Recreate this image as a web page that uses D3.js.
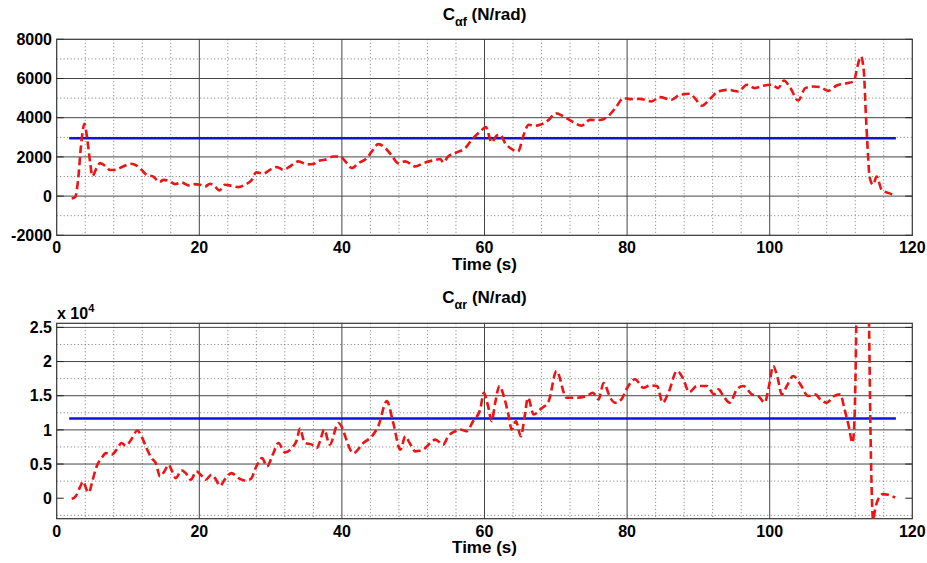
<!DOCTYPE html>
<html>
<head>
<meta charset="utf-8">
<script src="https://cdn.jsdelivr.net/npm/d3@7"></script>
<style>
  body { margin: 0; background: #fff; }
  svg text { font-family: Arial, "Liberation Sans", sans-serif; font-weight: bold; fill: #000; }
</style>
</head>
<body>
<svg id="chart" width="927" height="563"></svg>
<script>
// ------------------------------------------------------------
// Cornering stiffness estimates, front (top) and rear (bottom).
// Red dashed = estimate over time, blue = constant reference.
// ------------------------------------------------------------

// Time samples and estimate for the front axle (N/rad).
const timeF = [2.1, 2.6, 3.0, 3.4, 3.9, 4.3, 4.7, 5.0, 5.6, 6.1, 6.9, 7.5, 8.2, 9.3, 10.4, 11.2, 11.9, 12.6, 13.6, 14.4,
  15.0, 15.9, 16.6, 17.5, 18.5, 19.2, 20.1, 20.8, 21.5, 22.2, 22.8, 23.6, 24.5, 25.5, 26.4, 27.3, 28.0, 29.0, 29.9, 30.9,
  31.8, 32.7, 33.9, 35.1, 36.0, 36.7, 37.6, 38.8, 39.7, 40.7, 41.4, 42.3, 43.5, 44.2, 45.1, 46.1, 47.0, 47.9, 48.9, 50.3,
  51.4, 52.8, 53.8, 54.2, 54.9, 56.1, 57.3, 58.2, 59.4, 60.2, 61.0, 61.7, 62.2, 62.9, 63.6, 64.7, 65.5, 66.2, 67.1, 67.8,
  69.0, 70.0, 71.1, 72.5, 73.6, 74.8, 76.2, 77.6, 78.5, 79.5, 80.4, 81.8, 83.4, 84.6, 86.2, 87.4, 88.8, 89.5, 90.5, 91.6,
  92.8, 94.2, 95.6, 96.8, 97.9, 99.1, 100.3, 101.2, 102.0, 102.9, 104.0, 105.0, 106.1, 107.1, 108.2, 109.4, 110.8, 111.8,
  112.3, 112.8, 113.2, 113.5, 113.8, 114.0, 114.5, 115.0, 115.7, 116.7, 117.7];
const capF = [-120, -50, 830, 2530, 3690, 2870, 1680, 1020, 1430, 1680, 1510, 1330, 1340, 1510, 1650, 1560, 1340, 1090, 980, 720,
  830, 750, 610, 700, 545, 610, 580, 490, 630, 490, 290, 580, 530, 460, 580, 800, 1210, 1140, 1340, 1480,
  1340, 1510, 1770, 1620, 1640, 1800, 1850, 2020, 2020, 1680, 1430, 1680, 1940, 2280, 2650, 2450, 2060, 1680, 1770, 1510,
  1680, 1820, 1890, 1720, 2020, 2230, 2450, 2870, 3300, 3520, 2740, 3080, 3130, 2700, 2450, 2280, 3130, 3640, 3590, 3640,
  3890, 4230, 4060, 3760, 3590, 3890, 3880, 4170, 4570, 5000, 4950, 4960, 4830, 5050, 4910, 5170, 5220, 5000, 4610, 4950,
  5340, 5420, 5340, 5680, 5510, 5630, 5680, 5510, 5900, 5510, 4880, 5510, 5590, 5560, 5370, 5640, 5760, 5850,
  6610, 7120, 6360, 4060, 2020, 1000, 580, 1000, 320, 150, 30];

// Time samples and estimate for the rear axle (N/rad).
const timeR = [2.1, 2.7, 3.3, 3.7, 4.2, 4.5, 5.05, 5.6, 6.3, 6.9, 7.7, 8.4, 9.1, 9.7, 10.5, 11.3, 11.9, 12.6, 13.3, 13.9,
  14.5, 15.1, 15.7, 16.1, 16.7, 17.5, 18.1, 18.8, 19.6, 20.2, 20.9, 21.7, 22.3, 22.9, 23.6, 24.5, 25.5, 26.4, 27.2, 28.0,
  28.8, 29.5, 30.3, 31.1, 32.0, 33.0, 33.7, 34.1, 34.8, 35.8, 36.5, 37.0, 37.5, 38.3, 39.5, 41.6, 43.0, 44.2, 45.1, 46.3,
  47.2, 48.2, 48.9, 49.5, 50.3, 51.4, 52.4, 53.1, 54.2, 54.9, 55.9, 56.6, 57.5, 58.4, 59.4, 59.9, 60.5, 61.0, 61.5, 62.1,
  62.7, 63.4, 63.8, 64.4, 65.1, 65.6, 66.1, 66.9, 67.8, 69.0, 70.1, 71.5, 72.9, 74.3, 75.2, 76.0, 76.7, 77.7, 78.3, 79.2,
  79.9, 81.1, 82.3, 83.2, 84.2, 85.0, 85.8, 87.0, 87.9, 88.7, 89.8, 91.2, 92.2, 92.8, 93.5, 94.4, 95.4, 96.3, 97.5, 98.4,
  99.3, 99.9, 100.5, 101.1, 101.7, 102.4, 103.3, 104.3, 105.4, 106.4, 107.1, 108.0, 109.0, 109.9, 110.5, 111.1, 111.6, 111.8,
  112.1, 112.3, 112.7, 113.2, 113.6, 113.9, 114.2, 114.5, 114.8, 115.2, 115.9, 116.6, 117.6];
const capR = [-100, 340, 1700, 2450, 1220, 820, 2700, 4650, 5880, 6600, 6370, 7100, 8080, 7690, 8670, 9900, 9060, 7300, 5880, 5140,
  3180, 3920, 4900, 4160, 2940, 4070, 3670, 2700, 3920, 3430, 2700, 3430, 2790, 1810, 2790, 3670, 2940, 2600, 2790, 4650,
  5880, 4650, 6370, 8080, 6710, 7350, 8580, 10200, 8080, 7840, 7350, 8580, 10050, 7840, 11000, 6600, 8080, 9060, 10540, 14210,
  11020, 7100, 9060, 8080, 6860, 7100, 8080, 8580, 7840, 9060, 9800, 10050, 9800, 11270, 12990, 15440, 13480, 11270, 13970, 16420,
  14950, 12010, 10050, 11270, 9060, 11760, 14700, 12250, 12990, 14210, 18620, 14700, 14700, 14950, 15440, 14460, 16850, 14580, 13970, 14460,
  15930, 17400, 16170, 16510, 16420, 13970, 15440, 18620, 17400, 15530, 16420, 16420, 15190, 15930, 14950, 13970, 15930, 16420, 15190, 14950,
  13970, 16420, 19360, 17640, 15190, 16420, 17890, 16660, 14950, 15190, 14460, 13970, 14950, 15200, 13000, 10500, 8100, 9500,
  22000, 40000, 52000, 55000, 48000, 28000, 6000, -3200, -1500, -200, 600, 500, 100];

// Constant reference values (blue lines) and the time span they cover.
const refF = 2950;
const refR = 11660;
const refSpan = [1.75, 117.7];

// Axis ticks and labels.
const xTicks = [0, 20, 40, 60, 80, 100, 120];
const yTicksF = [-2000, 0, 2000, 4000, 6000, 8000];
const yLabelsF = ["-2000", "0", "2000", "4000", "6000", "8000"];
const yTicksR = [0, 5000, 10000, 15000, 20000, 25000];
const yLabelsR = ["0", "0.5", "1", "1.5", "2", "2.5"];

const svg = d3.select("#chart");

// Shared horizontal layout.
const left = 56.7;
const right = 912.3;
const x = d3.scaleLinear().domain([0, 120]).range([left, right]);

// Draw one panel.
function drawPanel(p) {
  const y = d3.scaleLinear().domain(p.yDomain).range([p.bottom, p.top]);
  const g = svg.append("g");

  // Clip so the spikes don't leave the axes box.
  g.append("clipPath").attr("id", p.id)
    .append("rect")
    .attr("x", left).attr("y", p.top)
    .attr("width", right - left).attr("height", p.bottom - p.top);

  // Minor grid (dotted).
  const minorX = d3.range(4, 120, 4).filter(v => v % 20 !== 0);
  g.selectAll(".minx").data(minorX).enter().append("line")
    .attr("x1", d => x(d)).attr("x2", d => x(d))
    .attr("y1", p.top).attr("y2", p.bottom)
    .attr("stroke", "#666").attr("stroke-width", 0.9).attr("stroke-dasharray", "1,2.5");
  const minorY = p.minorY.filter(v => v > p.yDomain[0] && v < p.yDomain[1]);
  g.selectAll(".miny").data(minorY).enter().append("line")
    .attr("x1", left).attr("x2", right)
    .attr("y1", d => y(d)).attr("y2", d => y(d))
    .attr("stroke", "#666").attr("stroke-width", 0.9).attr("stroke-dasharray", "1,2.5");

  // Major grid (solid).
  g.selectAll(".majx").data(xTicks.slice(1, -1)).enter().append("line")
    .attr("x1", d => x(d)).attr("x2", d => x(d))
    .attr("y1", p.top).attr("y2", p.bottom)
    .attr("stroke", "#444").attr("stroke-width", 1);
  g.selectAll(".majy").data(p.yTicks.filter(v => !p.skipGrid.includes(v))).enter().append("line")
    .attr("x1", left).attr("x2", right)
    .attr("y1", d => y(d)).attr("y2", d => y(d))
    .attr("stroke", "#444").attr("stroke-width", 1);

  // Inside ticks on the left and right edges.
  p.yTicks.forEach(v => {
    g.append("line").attr("x1", left).attr("x2", left + 7)
      .attr("y1", y(v)).attr("y2", y(v)).attr("stroke", "#222");
    g.append("line").attr("x1", right - 7).attr("x2", right)
      .attr("y1", y(v)).attr("y2", y(v)).attr("stroke", "#222");
  });

  // Axes box.
  g.append("rect")
    .attr("x", left).attr("y", p.top)
    .attr("width", right - left).attr("height", p.bottom - p.top)
    .attr("fill", "none").attr("stroke", "#333").attr("stroke-width", 1.2);

  // Constant reference line.
  g.append("line")
    .attr("clip-path", `url(#${p.id})`)
    .attr("x1", x(refSpan[0])).attr("x2", x(refSpan[1]))
    .attr("y1", y(p.ref)).attr("y2", y(p.ref))
    .attr("stroke", "#1212dc").attr("stroke-width", 2.6);

  // Estimate (red dashed).
  const pts = p.times.map((t, i) => [t, p.values[i]]);
  const line = d3.line()
    .x(d => x(d[0]))
    .y(d => y(d[1]))
    .curve(d3.curveMonotoneX);
  g.append("path")
    .datum(pts)
    .attr("clip-path", `url(#${p.id})`)
    .attr("d", line)
    .attr("fill", "none")
    .attr("stroke", "#ec1414")
    .attr("stroke-width", 2.6)
    .attr("stroke-dasharray", "8,4");

  // Tick labels.
  g.selectAll(".ylab").data(p.yTicks).enter().append("text")
    .attr("x", 52).attr("y", d => y(d))
    .attr("dy", "0.36em")
    .attr("text-anchor", "end")
    .style("font-size", "16px")
    .text((d, i) => p.yLabels[i]);
  g.selectAll(".xlab").data(xTicks).enter().append("text")
    .attr("x", d => x(d)).attr("y", p.bottom + 18)
    .attr("text-anchor", "middle")
    .style("font-size", "16px")
    .text(d => d);

  // Axis label.
  g.append("text")
    .attr("x", (left + right) / 2).attr("y", p.bottom + 34.5)
    .attr("text-anchor", "middle")
    .style("font-size", "17px")
    .text("Time (s)");

  // Title with subscript.
  const title = g.append("text")
    .attr("x", (left + right) / 2).attr("y", p.titleY)
    .attr("text-anchor", "middle")
    .style("font-size", "17px");
  title.append("tspan").text("C");
  title.append("tspan").attr("dy", 6).style("font-size", "12.5px").text(p.sub);
  title.append("tspan").attr("dy", -6).text(" (N/rad)");

  return y;
}

drawPanel({
  id: "clipF", top: 39.3, bottom: 235.3, yDomain: [-2000, 8000],
  yTicks: yTicksF, yLabels: yLabelsF, minorY: d3.range(-1000, 8000, 2000),
  skipGrid: [-2000, 8000], ref: refF, times: timeF, values: capF,
  titleY: 20, sub: "\u03b1f"
});

drawPanel({
  id: "clipR", top: 323.3, bottom: 518.7, yDomain: [-3000, 25600],
  yTicks: yTicksR, yLabels: yLabelsR, minorY: d3.range(-2500, 25600, 5000),
  skipGrid: [0], ref: refR, times: timeR, values: capR,
  titleY: 302.5, sub: "\u03b1r"
});

// Exponent note for the rear panel.
const expo = svg.append("text").attr("x", 57).attr("y", 319.3).style("font-size", "16px");
expo.append("tspan").text("x 10");
expo.append("tspan").attr("dy", -7).style("font-size", "11px").text("4");
</script>
</body>
</html>
